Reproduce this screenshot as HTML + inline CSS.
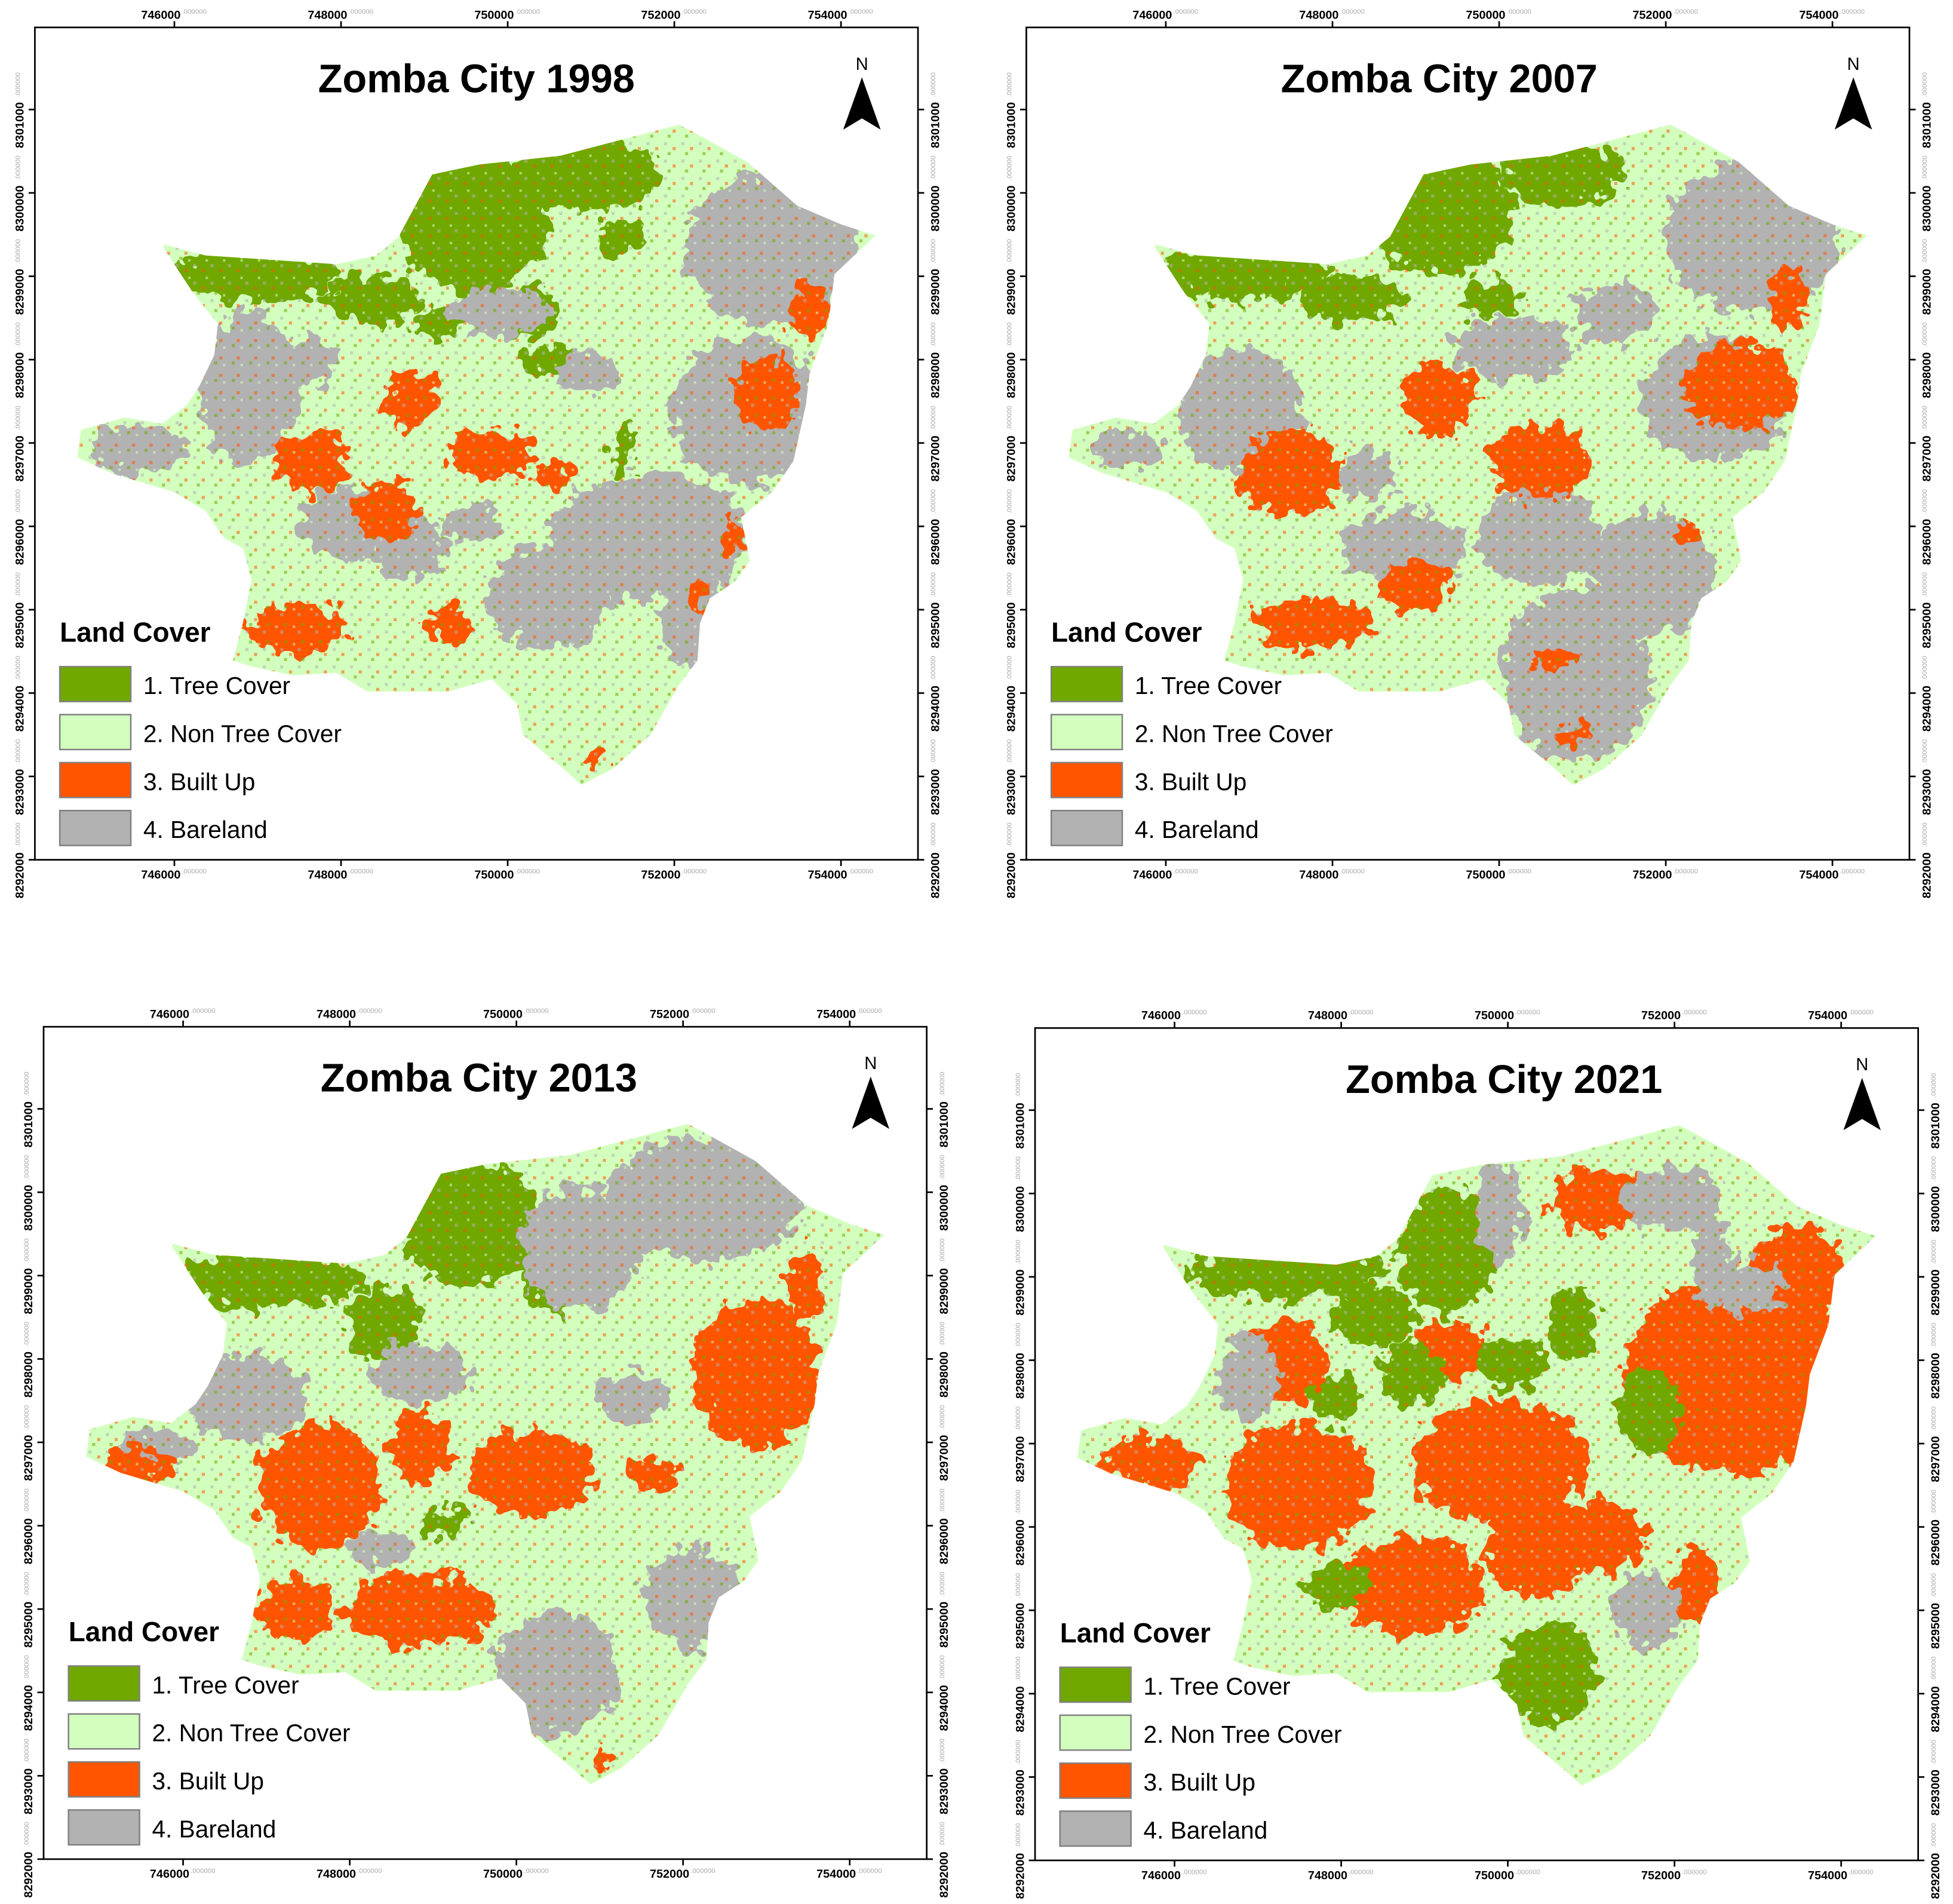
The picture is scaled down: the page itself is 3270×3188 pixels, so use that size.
<!DOCTYPE html>
<html><head><meta charset="utf-8"><style>
html,body{margin:0;padding:0;background:#fff;}
svg{display:block;}
text{font-family:"Liberation Sans",Arial,sans-serif;}
</style></head><body>
<svg id="root" width="3270" height="3188" viewBox="0 0 1568 1528" preserveAspectRatio="none" xmlns="http://www.w3.org/2000/svg">
<defs>
<filter id="rough" x="-10%" y="-10%" width="120%" height="120%">
<feTurbulence type="fractalNoise" baseFrequency="0.09" numOctaves="2" seed="3" result="n"/>
<feDisplacementMap in="SourceGraphic" in2="n" scale="30" xChannelSelector="R" yChannelSelector="G"/>
</filter>
<pattern id="speck" width="14" height="14" patternUnits="userSpaceOnUse">
<rect x="1" y="2" width="2.5" height="2.5" fill="#b2b2b2"/>
<rect x="8" y="6" width="2.5" height="2.5" fill="#ff5500"/>
<rect x="4" y="10" width="2.5" height="2.5" fill="#70a800"/>
<rect x="11" y="12" width="2" height="2" fill="#d3ffbe"/>
</pattern>
</defs>
</svg>
<script>
// Land cover classes
const classNames = ['1. Tree Cover','2. Non Tree Cover','3. Built Up','4. Bareland'];
const classColors = {t:'#70a800', n:'#d3ffbe', o:'#ff5500', g:'#b2b2b2'};
const classKeys = ['t','n','o','g'];
const years = ['1998','2007','2013','2021'];
const xTicks = [746000,748000,750000,752000,754000];
const yTicks = [8292000,8293000,8294000,8295000,8296000,8297000,8298000,8299000,8300000,8301000];
const panelX0 = [140,936,147,943];
const panelYb = [690,690,1492,1493];
const titleShift = [0,-23,-5,22];
const boundary = [[131,196],[165,205],[270,212],[302,205],[320,190],[347,140],[385,132],[450,125],[545,100],[555,105],[600,130],[640,165],[675,180],[703,189],[670,220],[665,260],[650,300],[647,325],[637,370],[620,395],[595,415],[602,450],[590,467],[570,480],[562,500],[560,530],[545,550],[522,590],[492,617],[467,630],[450,615],[420,590],[415,565],[395,545],[360,555],[295,555],[270,540],[235,542],[202,535],[187,530],[195,500],[202,465],[195,440],[180,432],[165,410],[140,395],[90,380],[62,367],[65,345],[100,335],[130,340],[150,325],[160,310],[172,285],[175,260],[155,235],[132,200]];
const blobs1998 = [[200,222,70,20,'t'],[380,180,60,55,'t'],[470,140,60,30,'t'],[300,240,40,20,'t'],[500,190,20,15,'t'],[420,250,30,20,'t'],[500,360,10,20,'t'],[440,290,25,12,'t'],[350,260,20,12,'t'],
[620,200,70,60,'g'],[600,330,60,60,'g'],[520,430,80,50,'g'],[200,310,40,60,'g'],[110,360,40,20,'g'],[440,480,50,40,'g'],[280,420,40,30,'g'],[560,500,30,40,'g'],[400,250,40,20,'g'],[330,440,30,25,'g'],[470,300,25,18,'g'],[380,420,25,15,'g'],[250,290,20,20,'g'],
[250,370,30,25,'o'],[330,320,22,22,'o'],[395,365,35,20,'o'],[310,410,25,25,'o'],[615,315,25,30,'o'],[650,250,15,25,'o'],[240,505,40,20,'o'],[360,500,20,15,'o'],[590,430,8,15,'o'],[475,610,8,6,'o'],[445,380,15,12,'o'],[560,480,8,12,'o']];
const blobs2007 = [[200,218,70,22,'t'],[360,170,60,50,'t'],[460,140,50,25,'t'],[290,240,40,20,'t'],[400,240,25,15,'t'],
[610,190,70,60,'g'],[580,320,60,50,'g'],[470,540,60,70,'g'],[200,330,50,50,'g'],[330,440,50,30,'g'],[440,430,50,40,'g'],[530,460,50,50,'g'],[420,280,50,25,'g'],[110,360,30,15,'g'],[500,250,30,25,'g'],[300,380,25,20,'g'],
[240,380,40,35,'o'],[360,320,30,30,'o'],[440,370,40,30,'o'],[600,310,45,35,'o'],[640,240,15,25,'o'],[260,500,50,20,'o'],[340,470,30,20,'o'],[470,590,12,10,'o'],[450,530,20,10,'o'],[560,430,10,10,'o']];
const blobs2013 = [[210,225,75,22,'t'],[370,180,55,50,'t'],[300,260,30,30,'t'],[440,220,30,30,'t'],[350,420,20,12,'t'],
[560,160,80,50,'g'],[460,200,50,50,'g'],[190,320,50,35,'g'],[440,540,50,50,'g'],[550,480,40,40,'g'],[330,300,40,25,'g'],[120,360,30,15,'g'],[500,320,30,20,'g'],[300,440,25,15,'g'],
[600,300,50,60,'o'],[640,230,15,30,'o'],[420,380,50,35,'o'],[250,390,50,50,'o'],[330,490,60,30,'o'],[230,490,30,25,'o'],[100,375,30,15,'o'],[330,360,25,30,'o'],[520,380,20,15,'o'],[480,610,10,8,'o']];
const blobs2021 = [[590,300,90,80,'o'],[640,220,40,40,'o'],[240,390,60,50,'o'],[400,370,70,50,'o'],[330,470,60,40,'o'],[480,160,40,25,'o'],[120,370,40,20,'o'],[360,280,30,25,'o'],[480,430,40,30,'o'],[560,470,20,30,'o'],[230,290,35,35,'o'],[430,440,40,40,'o'],
[230,218,80,22,'t'],[360,200,40,50,'t'],[520,330,25,35,'t'],[440,540,40,40,'t'],[270,470,25,20,'t'],[330,300,25,25,'t'],[460,260,20,30,'t'],[300,255,35,25,'t'],[410,290,30,20,'t'],[270,320,20,20,'t'],
[540,160,40,25,'g'],[570,210,15,35,'g'],[200,300,25,35,'g'],[600,230,30,20,'g'],[520,490,30,30,'g'],[400,170,20,40,'g']];
const allBlobs = [blobs1998,blobs2007,blobs2013,blobs2021];

const NS='http://www.w3.org/2000/svg';
const root=document.getElementById('root');
const defs=root.querySelector('defs');
const S=0.0669;
function mk(tag,attrs,parent){const e=document.createElementNS(NS,tag);for(const k in attrs)e.setAttribute(k,attrs[k]);(parent||root).appendChild(e);return e;}

years.forEach((yr,i)=>{
  const X0=panelX0[i], Yb=panelYb[i];
  const px=x=>X0+(x-746000)*S, py=y=>Yb-(y-8292000)*S;
  const dx=X0-140, dy=Yb-690;
  const L=px(744326), R=px(754924), T=py(8301985), B=py(8292000);
  const g=mk('g',{});
  
  
  const cp=mk('clipPath',{id:'clip'+i},defs);
  const pts=boundary.map(p=>(p[0]+dx)+','+(p[1]+dy)).join(' ');
  mk('polygon',{points:pts},cp);
  const frame=mk('rect',{x:L,y:T,width:R-L,height:B-T,fill:'#fff',stroke:'#000','stroke-width':1.3},g);
  
  
  const mapG=mk('g',{'clip-path':'url(#clip'+i+')'},g);
  
  
  mk('polygon',{points:pts,fill:classColors.n},mapG);
  const bg=mk('g',{filter:'url(#rough)'},mapG);
  allBlobs[i].forEach(b=>{
    const el=mk('ellipse',{cx:b[0]+dx,cy:b[1]+dy,rx:b[2],ry:b[3],fill:classColors[b[4]]},bg);
    
    
  });
  mk('rect',{x:L,y:T,width:R-L,height:B-T,fill:'url(#speck)',opacity:0.55},mapG);
  xTicks.forEach(v=>{
    [[T,-1],[B,1]].forEach(([yy,s])=>{
      mk('line',{x1:px(v),x2:px(v),y1:yy,y2:yy+s*5,stroke:'#000','stroke-width':1.3},g);
      const ty=s<0?yy-7:yy+15;
      const t=mk('text',{x:px(v)+5,y:ty,'text-anchor':'end','font-size':9.5,'font-weight':'bold'},g);
      t.textContent=v;
      
      
      const s2=mk('text',{x:px(v)+6,y:ty-4,'font-size':5.5,fill:'#aaa'},g);
      s2.textContent='.000000';
    });
  });
  yTicks.forEach(v=>{
    [[L,-1],[R,1]].forEach(([xx,s])=>{
      mk('line',{x1:xx,x2:xx+s*5,y1:py(v),y2:py(v),stroke:'#000','stroke-width':1.3},g);
      const tx=s<0?xx-9:xx+17;
      const t=mk('text',{x:0,y:0,'font-size':9.5,'font-weight':'bold',transform:`translate(${tx},${py(v)+31}) rotate(-90)`},g);
      t.textContent=v;
      
      
      const s2=mk('text',{x:0,y:0,'font-size':5.5,fill:'#aaa',transform:`translate(${tx-3},${py(v)-10}) rotate(-90)`},g);
      s2.textContent='.000000';
    });
  });
  const ti=mk('text',{x:(L+R)/2+titleShift[i],y:T+52,'text-anchor':'middle','font-size':32,'font-weight':'bold'},g);
  ti.textContent='Zomba City '+yr;
  
  
  const ax=R-45, ay=T+40;
  const n=mk('text',{x:ax,y:ay-6,'text-anchor':'middle','font-size':14,'font-family':'Liberation Serif, serif'},g);
  n.textContent='N';
  
  
  const ar=mk('polygon',{points:`${ax},${ay} ${ax-15},${ay+42} ${ax},${ay+33} ${ax+15},${ay+42}`,fill:'#000'},g);
  
  
  const lx=L+20, ly=T+493;
  const lt=mk('text',{x:lx,y:ly,'font-size':22,'font-weight':'bold'},g);
  lt.textContent='Land Cover';
  
  
  classKeys.forEach((k,j)=>{
    const yy=ly+20+j*38.5;
    const sw=mk('rect',{x:lx,y:yy,width:57,height:28,fill:classColors[k],stroke:'#808080','stroke-width':1.2},g);
    
    
    const tt=mk('text',{x:lx+67,y:yy+22,'font-size':19.5},g);
    tt.textContent=classNames[j];
    
    
  });
});
</script>
</body></html>
